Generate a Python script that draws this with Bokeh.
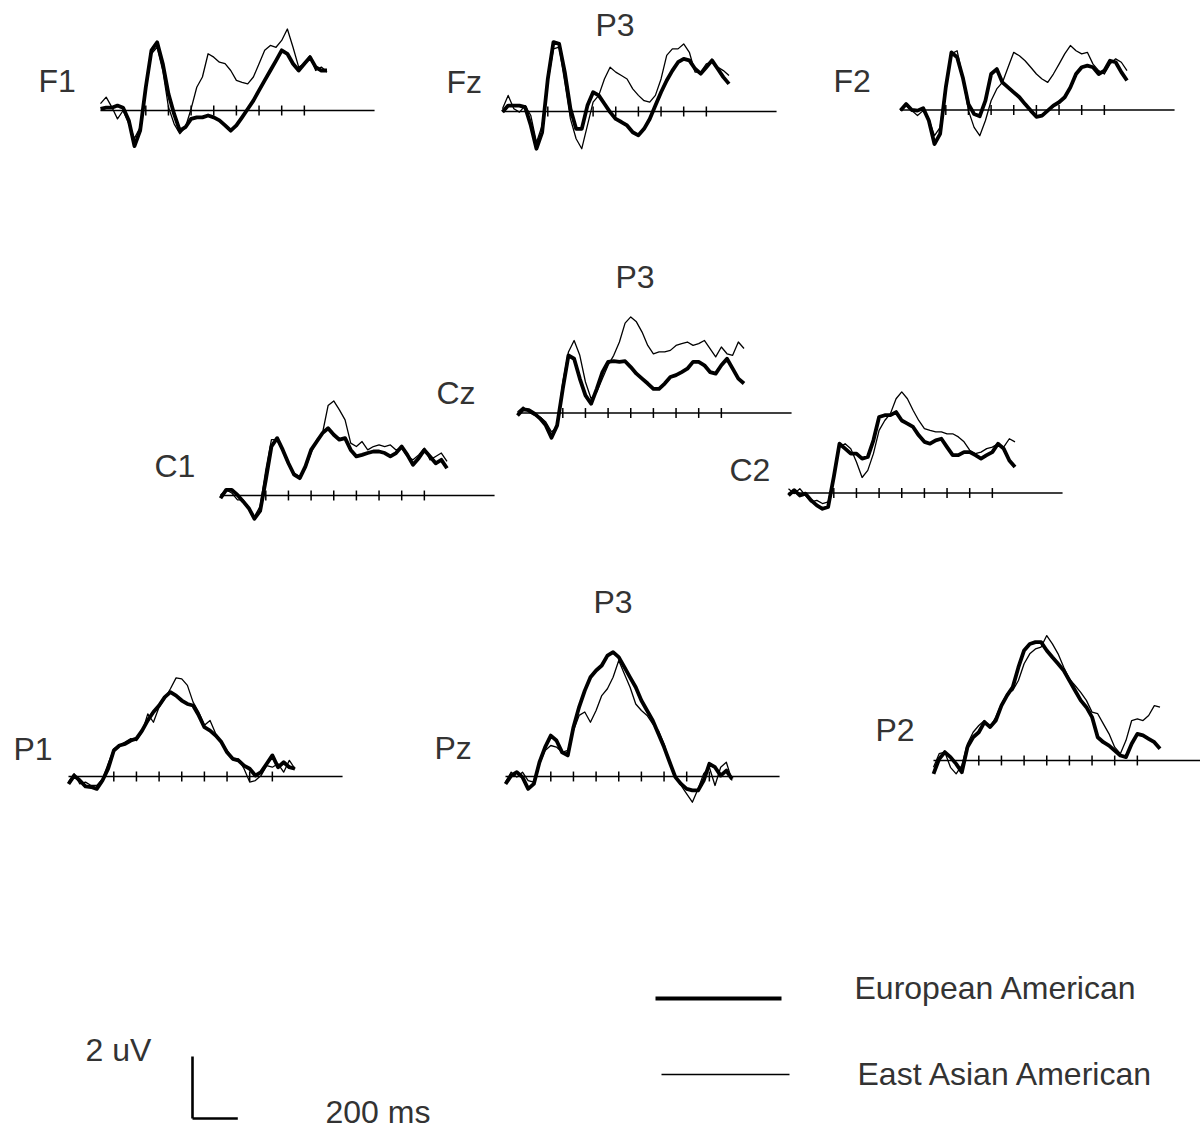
from bokeh.plotting import figure
from bokeh.models import Range1d
from bokeh.core.properties import value
from bokeh.embed import file_html
from bokeh.resources import INLINE

# ---------------- data (time in ms, amplitude in microvolts) ----------------
TIME_MS = list(range(-100, 901, 25))
TICKS_MS = [100, 200, 300, 400, 500, 600, 700, 800]

F1_EA = [0.05, 0.09, 0.09, 0.16, 0.09, -0.32, -1.15, -0.65, 0.75, 1.94, 2.20, 1.51, 0.54, -0.11, -0.65, -0.54,
         -0.27, -0.22, -0.22, -0.16, -0.22, -0.32, -0.48, -0.65, -0.48, -0.22, 0.05, 0.32, 0.65, 0.97, 1.29,
         1.61, 1.94, 1.83, 1.51, 1.29, 1.51, 1.72, 1.40, 1.29, 1.29]
F1_EAA = [0.22, 0.43, 0.11, -0.27, 0.0, -0.43, -0.90, -0.54, 0.65, 1.83, 2.04, 1.29, 0.11, -0.43, -0.75, -0.54,
          0.05, 0.75, 1.08, 1.83, 1.72, 1.56, 1.51, 1.29, 0.97, 0.91, 0.86, 1.08, 1.51, 1.94, 2.10, 2.04, 2.26,
          2.63, 2.04, 1.40, 1.51, 1.77, 1.29, 1.40, 1.24]

FZ_EA = [-0.02, 0.19, 0.19, 0.19, 0.14, -0.45, -1.20, -0.67, 1.05, 2.24, 2.18, 1.27, 0.09, -0.56, -0.56, 0.19,
         0.62, 0.52, 0.25, -0.02, -0.24, -0.34, -0.45, -0.67, -0.77, -0.56, -0.24, 0.19, 0.62, 1.00, 1.32, 1.59,
         1.70, 1.65, 1.38, 1.22, 1.43, 1.65, 1.38, 1.11, 0.89]
FZ_EAA = [0.09, 0.52, 0.09, -0.02, 0.19, -0.13, -1.00, -0.45, 0.95, 2.02, 2.08, 0.95, -0.24, -0.88, -1.20, -0.45,
          0.30, 0.52, 1.05, 1.43, 1.27, 1.16, 1.05, 0.73, 0.52, 0.35, 0.30, 0.52, 1.05, 1.81, 2.02, 2.02, 2.18,
          1.91, 1.27, 1.27, 1.54, 1.59, 1.43, 1.32, 1.16]

F2_EA = [-0.02, 0.19, 0.0, -0.02, 0.06, -0.34, -1.10, -0.77, 0.73, 1.86, 1.70, 1.05, 0.19, -0.13, -0.20, 0.30,
         1.16, 1.32, 0.89, 0.73, 0.57, 0.41, 0.19, -0.02, -0.22, -0.18, -0.02, 0.14, 0.25, 0.41, 0.73, 1.16, 1.38,
         1.43, 1.38, 1.16, 1.27, 1.59, 1.54, 1.22, 0.95]
F2_EAA = [-0.02, 0.19, -0.02, -0.18, -0.02, -0.29, -0.83, -0.56, 0.84, 1.81, 1.91, 1.05, -0.02, -0.56, -0.83,
          -0.34, 0.30, 0.68, 0.89, 1.38, 1.86, 1.75, 1.59, 1.38, 1.16, 1.00, 0.89, 1.16, 1.48, 1.81, 2.08, 1.91,
          1.81, 1.86, 1.48, 1.27, 1.16, 1.48, 1.65, 1.54, 1.27]

C1_EA = [-0.09, 0.18, 0.18, 0.02, -0.19, -0.41, -0.75, -0.50, 0.50, 1.58, 1.85, 1.47, 1.04, 0.67, 0.56, 0.94,
         1.47, 1.74, 2.01, 2.17, 1.96, 1.80, 1.85, 1.47, 1.26, 1.31, 1.37, 1.42, 1.42, 1.37, 1.26, 1.37, 1.58,
         1.31, 0.99, 1.20, 1.47, 1.26, 1.04, 1.15, 0.88]
C1_EAA = [0.02, 0.18, 0.08, -0.14, -0.14, -0.41, -0.68, -0.35, 0.83, 1.80, 1.80, 1.42, 0.99, 0.72, 0.61, 0.88,
          1.37, 1.80, 2.00, 2.90, 3.05, 2.76, 2.44, 1.69, 1.58, 1.74, 1.47, 1.58, 1.63, 1.58, 1.63, 1.47, 1.53,
          1.26, 1.15, 1.31, 1.53, 1.15, 1.26, 1.37, 1.10]

CZ_EA = [-0.08, 0.12, 0.09, -0.02, -0.18, -0.40, -0.80, -0.40, 0.78, 1.86, 1.75, 1.11, 0.57, 0.30, 0.78, 1.32,
         1.65, 1.67, 1.65, 1.67, 1.48, 1.27, 1.11, 0.95, 0.78, 0.78, 0.95, 1.16, 1.22, 1.32, 1.43, 1.65, 1.65,
         1.54, 1.32, 1.27, 1.54, 1.75, 1.43, 1.11, 0.95]
CZ_EAA = [0.03, 0.19, 0.03, -0.08, -0.13, -0.29, -0.61, -0.45, 1.00, 1.97, 2.34, 1.86, 1.00, 0.46, 0.68, 1.11,
          1.54, 1.86, 2.29, 2.90, 3.10, 2.94, 2.61, 2.18, 1.91, 1.97, 1.97, 2.02, 2.18, 2.24, 2.29, 2.18, 2.24,
          2.34, 2.08, 1.81, 2.13, 1.91, 1.86, 2.29, 2.08]

C2_EA = [-0.08, 0.09, -0.08, -0.02, -0.24, -0.40, -0.51, -0.45, 0.52, 1.59, 1.43, 1.27, 1.27, 1.11, 1.16, 1.70,
         2.45, 2.51, 2.51, 2.61, 2.34, 2.24, 2.13, 1.86, 1.65, 1.59, 1.70, 1.75, 1.48, 1.22, 1.22, 1.32, 1.32,
         1.22, 1.11, 1.22, 1.32, 1.59, 1.43, 1.05, 0.84]
C2_EAA = [0.14, -0.02, 0.14, -0.08, -0.29, -0.24, -0.34, -0.29, 0.52, 1.48, 1.59, 1.43, 1.00, 0.50, 0.73, 1.27,
          2.02, 2.34, 2.56, 3.04, 3.26, 3.04, 2.67, 2.34, 2.08, 2.02, 1.97, 1.97, 1.91, 1.91, 1.81, 1.65, 1.38,
          1.27, 1.32, 1.43, 1.48, 1.59, 1.48, 1.75, 1.65]

P1_EA = [-0.24, 0.03, -0.13, -0.32, -0.34, -0.40, -0.13, 0.25, 0.84, 1.00, 1.05, 1.16, 1.22, 1.48, 1.81, 2.08,
         2.29, 2.56, 2.72, 2.61, 2.45, 2.34, 2.29, 1.97, 1.59, 1.48, 1.32, 1.11, 0.78, 0.57, 0.52, 0.35, 0.25,
         0.03, 0.14, 0.41, 0.68, 0.30, 0.46, 0.30, 0.25]
P1_EAA = [-0.18, 0.09, -0.24, -0.18, -0.29, -0.29, -0.08, 0.41, 0.89, 1.00, 1.11, 1.22, 1.16, 1.43, 2.02, 1.75,
          2.24, 2.51, 2.83, 3.18, 3.15, 2.94, 2.40, 2.08, 1.65, 1.81, 1.38, 1.11, 0.84, 0.57, 0.57, 0.25, -0.18,
          -0.13, 0.03, 0.35, 0.30, 0.41, 0.14, 0.52, 0.25]

PZ_EA = [-0.24, 0.03, 0.14, -0.02, -0.40, -0.24, 0.46, 0.95, 1.32, 1.16, 0.78, 0.68, 1.59, 2.24, 2.77, 3.20,
         3.42, 3.58, 3.90, 4.01, 3.85, 3.53, 3.20, 2.88, 2.45, 2.13, 1.81, 1.38, 0.95, 0.46, -0.02, -0.24, -0.40,
         -0.45, -0.45, -0.13, 0.41, 0.30, 0.03, 0.19, -0.08]
PZ_EAA = [-0.18, 0.14, -0.02, 0.14, -0.13, -0.18, 0.41, 0.84, 1.00, 0.95, 0.78, 0.84, 1.48, 1.97, 2.08, 1.75,
          2.13, 2.61, 2.83, 3.20, 3.74, 3.31, 2.88, 2.34, 2.13, 1.97, 1.70, 1.48, 1.05, 0.46, -0.02, -0.29, -0.56,
          -0.83, -0.40, 0.09, 0.30, -0.29, 0.30, 0.46, -0.13]

P2_EA = [-0.43, 0.05, 0.27, 0.11, -0.11, -0.38, 0.43, 0.75, 0.91, 1.24, 1.08, 1.29, 1.77, 2.10, 2.37, 3.01,
         3.55, 3.76, 3.82, 3.82, 3.55, 3.33, 3.12, 2.90, 2.58, 2.26, 1.94, 1.72, 1.40, 0.75, 0.59, 0.48, 0.32,
         0.16, 0.11, 0.54, 0.86, 0.81, 0.70, 0.59, 0.38]
P2_EAA = [-0.22, 0.22, 0.27, -0.22, -0.43, -0.16, 0.54, 0.91, 1.13, 1.29, 1.08, 1.40, 1.83, 2.15, 2.26, 2.58,
          3.12, 3.44, 3.60, 3.66, 4.03, 3.76, 3.44, 3.01, 2.63, 2.42, 2.20, 1.94, 1.56, 1.51, 1.18, 0.86, 0.43,
          0.22, 0.65, 1.29, 1.34, 1.29, 1.45, 1.77, 1.72]

ELECTRODES = ["F1", "Fz", "F2", "C1", "Cz", "C2", "P1", "Pz", "P2"]
SERIES_EA = [F1_EA, FZ_EA, F2_EA, C1_EA, CZ_EA, C2_EA, P1_EA, PZ_EA, P2_EA]
SERIES_EAA = [F1_EAA, FZ_EAA, F2_EAA, C1_EAA, CZ_EAA, C2_EAA, P1_EAA, PZ_EAA, P2_EAA]
GROUPS = ["European American", "East Asian American"]
SCALE_UV = 2
SCALE_MS = 200

# ---------------- layout (page pixels, canvas at page origin) ----------------
W, H = 1200, 1131
PX_PER_MS = 0.2265
PX_PER_UV = 31.0
# page x of the epoch start (-100 ms), page y of the 0 uV baseline, baseline end (ms)
PANEL_POS = {
    "F1": (100, 110, 1110), "Fz": (502, 111, 1110), "F2": (900, 109.5, 1110),
    "C1": (220, 495, 1110), "Cz": (517, 412.5, 1110), "C2": (788, 492.5, 1110),
    "P1": (68, 776, 1110), "Pz": (505, 776, 1110), "P2": (933, 760, 1300),
}

FONT = value("Liberation Sans")
TXT = "#333333"

p = figure(width=W, height=H, x_range=Range1d(0, W), y_range=Range1d(H, 0),
           x_axis_type=None, y_axis_type=None, output_backend="svg",
           toolbar_location=None, min_border=0)
p.grid.visible = False
p.outline_line_color = None
p.background_fill_color = "white"
p.border_fill_color = "white"


def panel_ranges(x_epoch_start, y_base):
    t_left = (0 - x_epoch_start) / PX_PER_MS - 100
    t_right = (W - x_epoch_start) / PX_PER_MS - 100
    v_bottom = (y_base - H) / PX_PER_UV
    v_top = (y_base - 0) / PX_PER_UV
    return Range1d(t_left, t_right), Range1d(v_bottom, v_top)


xr, yr = {}, {}
for name in ELECTRODES:
    x0, yb, _ = PANEL_POS[name]
    xr[name], yr[name] = panel_ranges(x0, yb)
# scale bar: origin (0 ms, 0 uV) at page (192, 1118)
xr["scale"], yr["scale"] = panel_ranges(192 - 100 * PX_PER_MS, 1118)
p.extra_x_ranges = xr
p.extra_y_ranges = yr

for name, ea, eaa in zip(ELECTRODES, SERIES_EA, SERIES_EAA):
    _, _, tend = PANEL_POS[name]
    kw = dict(x_range_name=name, y_range_name=name)
    p.line([TIME_MS[0], tend], [0, 0], line_color="black", line_width=1.7, **kw)
    p.segment(x0=TICKS_MS, y0=[-0.16] * len(TICKS_MS), x1=TICKS_MS, y1=[0.16] * len(TICKS_MS),
              line_color="black", line_width=1.5, **kw)
    p.line(TIME_MS, eaa, line_color="black", line_width=1.3, line_join="round", **kw)
    p.line(TIME_MS, ea, line_color="black", line_width=3.8, line_join="round", **kw)

# scale bar (2 uV / 200 ms)
p.segment(x0=[0, 0], y0=[0, 0], x1=[0, SCALE_MS], y1=[SCALE_UV, 0], line_color="black",
          line_width=2.6, x_range_name="scale", y_range_name="scale")

# legend lines
p.segment(x0=[655], y0=[998], x1=[781], y1=[998], line_color="black", line_width=4)
p.segment(x0=[661], y0=[1074], x1=[789], y1=[1074], line_color="black", line_width=1.5)

# labels
LABELS = ["F1", "P3", "Fz", "F2", "P3", "Cz", "C1", "C2", "P3", "P1", "Pz", "P2",
          GROUPS[0], GROUPS[1], "2 uV", "200 ms"]
LX = [38, 595, 446, 833, 615, 436, 154, 729, 593, 13, 434, 875, 854, 857, 85, 325]
LY = [80, 24, 81, 80, 276, 392, 465, 469, 601, 748, 747, 729, 987, 1073, 1049, 1111]
p.text(x=LX, y=LY, text=LABELS, text_font=FONT, text_font_size="32px", text_color=TXT,
       text_baseline="middle", text_align="left")

open("out.html", "w").write(file_html(p, INLINE))
